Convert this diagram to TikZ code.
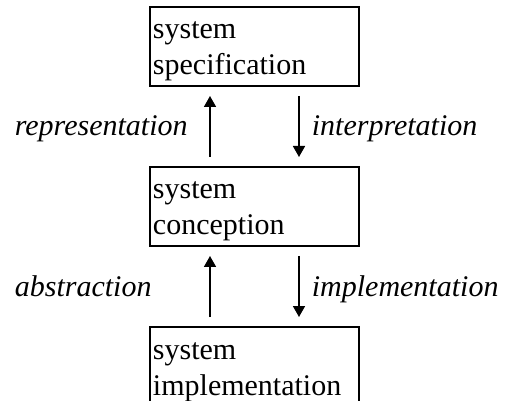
\documentclass[tikz,border=0pt]{standalone}
\usepackage{fontspec}
\setmainfont{Liberation Serif}
\usetikzlibrary{positioning,arrows.meta}

\begin{document}
\begin{tikzpicture}[->,>={Triangle[length=5.5pt,width=6pt]}, line width=0.85pt, node distance=39.5pt]
			\tikzstyle{level}=[draw=black,line width=1pt,inner xsep=1.5pt,inner ysep=0pt,
			text width=101.5pt,align=left,text height=16pt,text depth=23.5pt,
			font=\fontsize{15}{18}\selectfont]
			\tikzstyle{relation}=[font=\fontsize{15}{18}\selectfont\itshape,inner sep=0pt]

			\useasboundingbox (-127.25pt,23.25pt) rectangle (127.25pt,-177.25pt);

			\begin{scope}
				\node[level] (spec) {system\\specification};
				\node[level] (conc) [below=of spec] {system\\conception};
				\node[level] (impl) [below=of conc] {system\\implementation};

				\draw[->,shorten <=4.5pt,shorten >=4.5pt] ([xshift=-22.25pt]conc.north) -- node[relation,anchor=base west,xshift=-98pt,yshift=-4.75pt] (repr) {representation} ([xshift=-22.25pt]spec.south);
				\draw[->,shorten <=4.5pt,shorten >=4.5pt] ([xshift=22.25pt]spec.south) -- node[relation,anchor=base west,xshift=6pt,yshift=-4.75pt] (inter) {interpretation} ([xshift=22.25pt]conc.north);
				\draw[->,shorten <=4.5pt,shorten >=4.5pt] ([xshift=-22.25pt]impl.north) -- node[relation,anchor=base west,xshift=-98pt,yshift=-4.75pt] (abstr) {abstraction} ([xshift=-22.25pt]conc.south);
				\draw[->,shorten <=4.5pt,shorten >=4.5pt] ([xshift=22.25pt]conc.south) -- node[relation,anchor=base west,xshift=6pt,yshift=-4.75pt] (implem) {implementation} ([xshift=22.25pt]impl.north);
			\end{scope}
		\end{tikzpicture}
\end{document}
